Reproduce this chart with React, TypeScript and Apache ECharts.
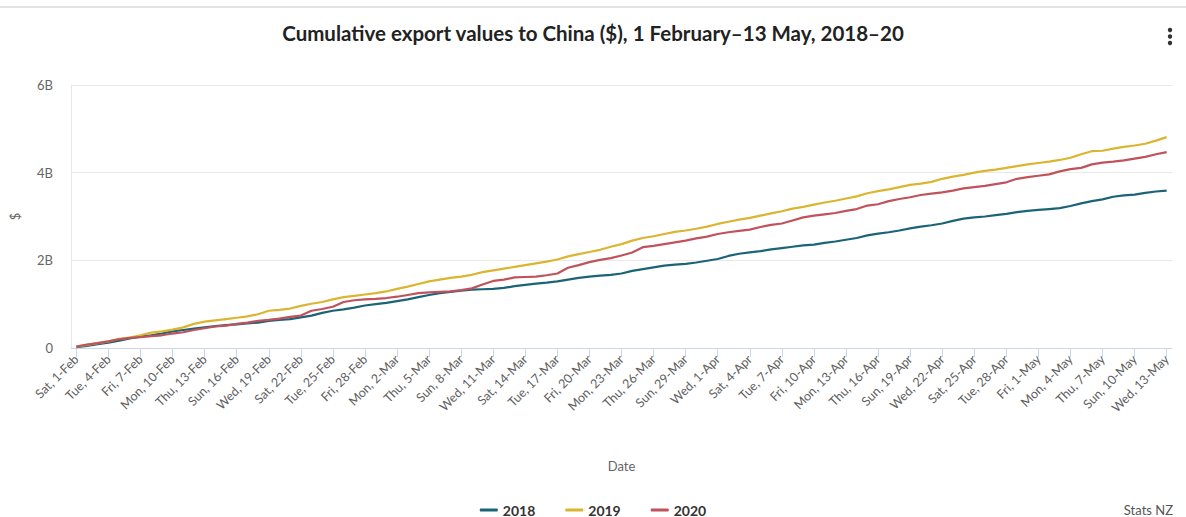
import React, { useEffect, useRef } from "react";
import * as echarts from "echarts";

const seriesNames = ["2018", "2019", "2020"];

// Cumulative export values, billions of NZ$
const values2018 = [
  0.02, 0.05, 0.09, 0.12, 0.17, 0.22, 0.26, 0.29, 0.33, 0.38,
  0.41, 0.44, 0.47, 0.5, 0.52, 0.54, 0.56, 0.58, 0.62, 0.64,
  0.66, 0.7, 0.74, 0.8, 0.85, 0.88, 0.92, 0.97, 1.0, 1.03,
  1.07, 1.11, 1.16, 1.21, 1.25, 1.28, 1.31, 1.33, 1.34, 1.35,
  1.37, 1.41, 1.44, 1.47, 1.49, 1.52, 1.56, 1.6, 1.63, 1.65,
  1.67, 1.7, 1.76, 1.8, 1.84, 1.88, 1.9, 1.92, 1.95, 1.99,
  2.03, 2.1, 2.15, 2.18, 2.21, 2.25, 2.28, 2.31, 2.34, 2.36,
  2.4, 2.43, 2.47, 2.51, 2.57, 2.61, 2.64, 2.68, 2.73, 2.77,
  2.8, 2.84, 2.9, 2.95, 2.98, 3.0, 3.03, 3.06, 3.1, 3.13,
  3.15, 3.17, 3.19, 3.24, 3.3, 3.35, 3.39, 3.45, 3.48, 3.5,
  3.54, 3.57, 3.59,
];

const values2019 = [
  0.03, 0.07, 0.11, 0.15, 0.21, 0.24, 0.29, 0.35, 0.38, 0.42,
  0.47, 0.55, 0.6, 0.63, 0.66, 0.69, 0.72, 0.77, 0.85, 0.87,
  0.9, 0.96, 1.01, 1.05, 1.11, 1.16, 1.19, 1.22, 1.25, 1.29,
  1.35, 1.4, 1.46, 1.52, 1.56, 1.6, 1.63, 1.67, 1.73, 1.77,
  1.81, 1.85, 1.89, 1.93, 1.97, 2.02, 2.09, 2.14, 2.19, 2.24,
  2.31, 2.37, 2.45, 2.51, 2.55, 2.6, 2.65, 2.68, 2.72, 2.77,
  2.83, 2.88, 2.93, 2.97, 3.02, 3.07, 3.12, 3.18, 3.22, 3.27,
  3.32, 3.36, 3.41, 3.46, 3.53, 3.58, 3.62, 3.67, 3.72, 3.75,
  3.79, 3.86, 3.91, 3.95, 4.0, 4.04, 4.07, 4.11, 4.15, 4.19,
  4.22, 4.25, 4.29, 4.34, 4.42, 4.49, 4.5, 4.55, 4.59, 4.62,
  4.66, 4.73, 4.81,
];

const values2020 = [
  0.03, 0.08, 0.11, 0.15, 0.2, 0.23, 0.25, 0.27, 0.29, 0.33,
  0.36, 0.41, 0.45, 0.49, 0.51, 0.55, 0.58, 0.62, 0.64, 0.67,
  0.71, 0.74, 0.85, 0.89, 0.94, 1.05, 1.09, 1.11, 1.12, 1.14,
  1.17, 1.21, 1.25, 1.27, 1.28, 1.29, 1.32, 1.36, 1.45, 1.53,
  1.56, 1.61, 1.62, 1.63, 1.66, 1.7, 1.83, 1.89, 1.96, 2.01,
  2.05, 2.11, 2.18, 2.3, 2.33, 2.37, 2.41, 2.45, 2.5, 2.54,
  2.6, 2.64, 2.67, 2.7, 2.76, 2.81, 2.84, 2.91, 2.98, 3.02,
  3.05, 3.08, 3.13, 3.17, 3.25, 3.28, 3.35, 3.4, 3.44, 3.49,
  3.52, 3.55, 3.59, 3.64, 3.67, 3.7, 3.74, 3.78, 3.86, 3.9,
  3.93, 3.96, 4.03, 4.08, 4.11, 4.19, 4.23, 4.25, 4.28, 4.32,
  4.36, 4.42, 4.47,
];

const yTicks = [0, 2, 4, 6];

const dayNames = ["Sun", "Mon", "Tue", "Wed", "Thu", "Fri", "Sat"];
const monthNames = ["Jan", "Feb", "Mar", "Apr", "May", "Jun", "Jul", "Aug", "Sep", "Oct", "Nov", "Dec"];

function buildCategories(): string[] {
  const out: string[] = [];
  const start = Date.UTC(2020, 1, 1);
  for (let i = 0; i < values2018.length; i++) {
    const d = new Date(start + i * 86400000);
    out.push(`${dayNames[d.getUTCDay()]}, ${d.getUTCDate()}-${monthNames[d.getUTCMonth()]}`);
  }
  return out;
}

const categories = buildCategories();
const colors = ["#1b6477", "#dcb530", "#c0525b"];
const FONT = "Lato, 'Open Sans', sans-serif";

export default function App() {
  const ref = useRef<HTMLDivElement>(null);

  useEffect(() => {
    if (!ref.current) return;
    const chart = echarts.init(ref.current, null, { renderer: "svg" });
    const data = [values2018, values2019, values2020];
    chart.setOption({
      animation: false,
      backgroundColor: "#ffffff",
      textStyle: { fontFamily: FONT },
      title: {
        text: "Cumulative export values to China ($), 1 February\u201313 May, 2018\u201320",
        left: "center",
        top: 17,
        textStyle: { fontFamily: FONT, fontSize: 20.5, fontWeight: "bold", color: "#222222" },
      },
      graphic: [
        { type: "line", shape: { x1: 0, y1: 7, x2: 1186, y2: 7 }, style: { stroke: "#e2e2e2", lineWidth: 2 } },
        { type: "circle", shape: { cx: 1170, cy: 30, r: 2.2 }, style: { fill: "#333333" } },
        { type: "circle", shape: { cx: 1170, cy: 36.5, r: 2.2 }, style: { fill: "#333333" } },
        { type: "circle", shape: { cx: 1170, cy: 43, r: 2.2 }, style: { fill: "#333333" } },
        {
          type: "text",
          right: 13,
          top: 503,
          style: { text: "Stats NZ", fill: "#555555", font: `13px ${FONT}` },
        },
      ],
      legend: {
        data: seriesNames,
        top: 498,
        left: "center",
        icon: "roundRect",
        itemWidth: 18,
        itemHeight: 3,
        itemGap: 30,
        textStyle: { fontFamily: FONT, fontSize: 14, fontWeight: "bold", color: "#333333" },
      },
      grid: { left: 70, top: 85, width: 1102, height: 263, containLabel: false },
      xAxis: {
        type: "category",
        data: categories,
        boundaryGap: true,
        name: "Date",
        nameLocation: "middle",
        nameGap: 111,
        nameTextStyle: { fontFamily: FONT, fontSize: 13, color: "#666666" },
        axisLine: { show: true, lineStyle: { color: "#ccd6eb", width: 1 } },
        axisTick: { show: true, alignWithLabel: true, interval: 2, length: 9, lineStyle: { color: "#ccd6eb" } },
        axisLabel: { interval: 2, rotate: 45, fontFamily: FONT, fontSize: 12.5, color: "#606060", margin: 9 },
        splitLine: { show: false },
      },
      yAxis: {
        type: "value",
        min: yTicks[0],
        max: yTicks[yTicks.length - 1],
        interval: 2,
        name: "$",
        nameLocation: "middle",
        nameGap: 50,
        nameRotate: 90,
        nameTextStyle: { fontFamily: FONT, fontSize: 13, color: "#666666" },
        axisLine: { show: true, lineStyle: { color: "#e6e6ef" } },
        axisTick: { show: false },
        axisLabel: {
          fontFamily: FONT,
          fontSize: 13,
          color: "#666666",
          margin: 18,
          formatter: (v: number) => (v === 0 ? "0" : `${v}B`),
        },
        splitLine: { show: true, lineStyle: { color: "#e9e9e9", width: 1 } },
      },
      series: seriesNames.map((name, i) => ({
        name,
        type: "line",
        data: data[i],
        showSymbol: false,
        symbol: "none",
        lineStyle: { width: 2.2, color: colors[i] },
        itemStyle: { color: colors[i] },
      })),
    });
    return () => chart.dispose();
  }, []);

  return (
    <div
      ref={ref}
      style={{ position: "absolute", left: 0, top: 0, width: 1186, height: 517 }}
    />
  );
}
